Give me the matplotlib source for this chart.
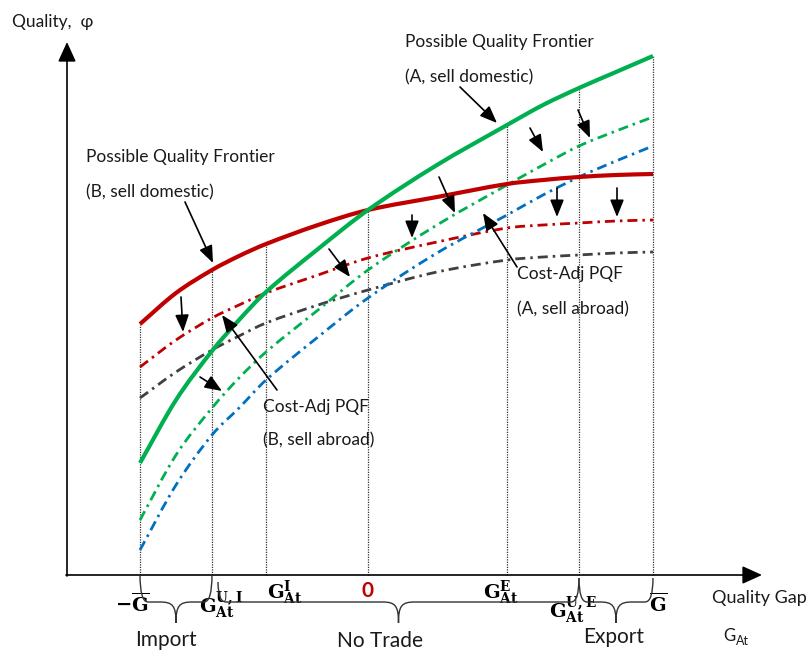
import numpy as np
import matplotlib
matplotlib.use("Agg")
import matplotlib.pyplot as plt
from matplotlib.path import Path
from matplotlib.patches import PathPatch

plt.rcParams['font.family'] = ['Lato', 'DejaVu Sans']
plt.rcParams['mathtext.fontset'] = 'dejavuserif'

# ---- data (picture coordinates) ----
gap_x = [140, 176, 212, 239, 266, 318, 368, 437, 507, 543, 579, 616, 653]
pqf_A_domestic = [463, 400, 351, 320, 292, 249, 210, 165, 125, 105, 88, 72, 56]
pqf_B_domestic = [324, 293, 270, 256, 244, 225, 210, 197, 184, 180, 177, 175, 174]
cadj_B_red = [367, 340, 318, 305, 293, 275, 258, 242, 228, 225, 223, 221, 220]
cadj_B_gray = [398, 372, 350, 336, 323, 305, 290, 272, 260, 257, 255, 253, 252]
cadj_A_green = [520, 455, 408, 378, 352, 310, 270, 225, 185, 165, 146, 131, 117]
cadj_A_blue = [550, 485, 435, 408, 380, 337, 298, 253, 215, 195, 177, 161, 146]

gap_points = [140, 212, 266, 368, 507, 579, 653]
gap_labels = [r'$\mathbf{-\overline{G}}$', r'$\mathbf{G_{At}^{U,I}}$', r'$\mathbf{G_{At}^{I}}$',
              '0', r'$\mathbf{G_{At}^{E}}$', r'$\mathbf{G_{At}^{U,E}}$', r'$\mathbf{\overline{G}}$']
regions = ['Import', 'No Trade', 'Export']

GREEN = '#00B050'
RED = '#C00000'
BLUE = '#0070C0'
GRAY = '#404040'

fig = plt.figure(figsize=(8.11, 6.54), dpi=100)
ax = fig.add_axes([0, 0, 1, 1])
ax.set_xlim(0, 811)
ax.set_ylim(654, 0)
ax.axis('off')

X0, Y0 = 67, 575


def smooth_curve(xs, ys, **kw):
    """Draw a smooth (Bezier) line through the read points."""
    xs = np.asarray(xs, float)
    ys = np.asarray(ys, float)
    n = len(xs)
    m = np.empty(n)
    m[0] = (ys[1] - ys[0]) / (xs[1] - xs[0])
    m[-1] = (ys[-1] - ys[-2]) / (xs[-1] - xs[-2])
    for i in range(1, n - 1):
        m[i] = (ys[i + 1] - ys[i - 1]) / (xs[i + 1] - xs[i - 1])
    verts = [(xs[0], ys[0])]
    codes = [Path.MOVETO]
    for i in range(n - 1):
        h = xs[i + 1] - xs[i]
        verts += [(xs[i] + h / 3, ys[i] + m[i] * h / 3),
                  (xs[i + 1] - h / 3, ys[i + 1] - m[i + 1] * h / 3),
                  (xs[i + 1], ys[i + 1])]
        codes += [Path.CURVE4] * 3
    ax.add_patch(PathPatch(Path(verts, codes), fill=False, **kw))


# vertical dotted guide lines up to the highest curve
curves = [pqf_A_domestic, pqf_B_domestic, cadj_B_red, cadj_B_gray, cadj_A_green, cadj_A_blue]
for gx in gap_points:
    i = gap_x.index(gx)
    top = min(c[i] for c in curves)
    ax.plot([gx, gx], [Y0, top], color='#333333', lw=0.9, ls=(0, (1, 1)), zorder=1)

dd = (0, (3.6, 1.8, 0.9, 1.8))
smooth_curve(gap_x, cadj_B_gray, ec=GRAY, lw=2.0, ls=dd, zorder=2)
smooth_curve(gap_x, cadj_B_red, ec=RED, lw=2.0, ls=dd, zorder=2)
smooth_curve(gap_x, cadj_A_blue, ec=BLUE, lw=2.0, ls=dd, zorder=2)
smooth_curve(gap_x, cadj_A_green, ec=GREEN, lw=2.0, ls=dd, zorder=2)
smooth_curve(gap_x, pqf_B_domestic, ec=RED, lw=3.0, capstyle='butt', zorder=3)
smooth_curve(gap_x, pqf_A_domestic, ec=GREEN, lw=3.0, capstyle='butt', zorder=3)

# axes with arrows
ap = dict(arrowstyle='-|>,head_length=0.55,head_width=0.25', color='black', lw=1.2,
          mutation_scale=22, shrinkA=0, shrinkB=0)
ax.annotate('', xy=(X0, 42), xytext=(X0, Y0 + 1), arrowprops=ap, zorder=4)
ax.annotate('', xy=(762, Y0), xytext=(X0 - 1, Y0), arrowprops=ap, zorder=4)

# annotation arrows
arrows = [
    ((460, 87), (497, 123)),
    ((185, 202), (213, 263)),
    ((277, 390), (222, 315)),
    ((517, 267), (483, 213)),
    ((181, 297), (183, 332)),
    ((200, 377), (222, 391)),
    ((329, 249), (350, 277)),
    ((412, 215), (412, 238)),
    ((439, 177), (455, 213)),
    ((530, 128), (543, 152)),
    ((578, 110), (590, 138)),
    ((557, 188), (557, 217)),
    ((617, 188), (617, 217)),
]
ap2 = dict(arrowstyle='-|>,head_length=0.65,head_width=0.26', color='black', lw=1.2,
           mutation_scale=16, shrinkA=0, shrinkB=0)
for start, end in arrows:
    ax.annotate('', xy=end, xytext=start, arrowprops=ap2, zorder=5)

# labels
fs = 12.5
txtc = '#1a1a1a'
ax.text(12, 27, 'Quality,  φ', fontsize=fs, color=txtc, va='baseline')
ax.text(405, 47, 'Possible Quality Frontier', fontsize=fs, color=txtc, va='baseline')
ax.text(405, 82, '(A, sell domestic)', fontsize=fs, color=txtc, va='baseline')
ax.text(86, 162, 'Possible Quality Frontier', fontsize=fs, color=txtc, va='baseline')
ax.text(86, 197, '(B, sell domestic)', fontsize=fs, color=txtc, va='baseline')
ax.text(517, 279, 'Cost-Adj PQF', fontsize=fs, color=txtc, va='baseline')
ax.text(517, 314, '(A, sell abroad)', fontsize=fs, color=txtc, va='baseline')
ax.text(263, 412, 'Cost-Adj PQF', fontsize=fs, color=txtc, va='baseline')
ax.text(263, 445, '(B, sell abroad)', fontsize=fs, color=txtc, va='baseline')
ax.text(712, 603, 'Quality Gap', fontsize=13, color=txtc, va='baseline')
ax.text(723, 641, 'G', fontsize=12, color=txtc, va='baseline')
ax.text(736, 645, 'At', fontsize=9, color=txtc, va='baseline')

# tick labels on the gap axis
label_pos = [(132, 603), (221, 605), (285, 593), (367, 591), (501, 593), (573, 610), (658, 603)]
for (lx, ly), lab in zip(label_pos, gap_labels):
    if lab == '0':
        ax.text(lx, ly, lab, fontsize=15, color=RED, fontweight='bold', ha='center', va='center')
    else:
        ax.text(lx, ly, lab, fontsize=14, color='black', ha='center', va='center')


def brace(xa, xb, ytop_a, ytop_b, ybar=602, ytip=623, r=8, rt=16):
    xt = (xa + xb) / 2
    verts = [(xa, ytop_a), (xa, ybar), (xa + r, ybar),
             (xt - rt, ybar),
             (xt - 3, ybar), (xt, ybar + 4), (xt, ytip),
             (xt, ybar + 4), (xt + 3, ybar), (xt + rt, ybar),
             (xb - r, ybar),
             (xb, ybar), (xb, ytop_b)]
    codes = [Path.MOVETO, Path.CURVE3, Path.CURVE3,
             Path.LINETO,
             Path.CURVE4, Path.CURVE4, Path.CURVE4,
             Path.CURVE4, Path.CURVE4, Path.CURVE4,
             Path.LINETO,
             Path.CURVE3, Path.CURVE3]
    ax.add_patch(PathPatch(Path(verts, codes), fill=False, ec='#333333', lw=1.0, zorder=4))
    return xt


brace_spans = [(gap_points[0], gap_points[1], 575, 575),
               (gap_points[1] + 6, gap_points[5], 582, 578),
               (gap_points[5], gap_points[6], 578, 578)]
region_pos = [(166, 646), (380, 647), (614, 643)]
for (a, b, ta, tb), name, (rx, ry) in zip(brace_spans, regions, region_pos):
    brace(a, b, ta, tb)
    ax.text(rx, ry, name, fontsize=15, color=txtc, ha='center', va='baseline')

fig.savefig('out.png', dpi=100)
